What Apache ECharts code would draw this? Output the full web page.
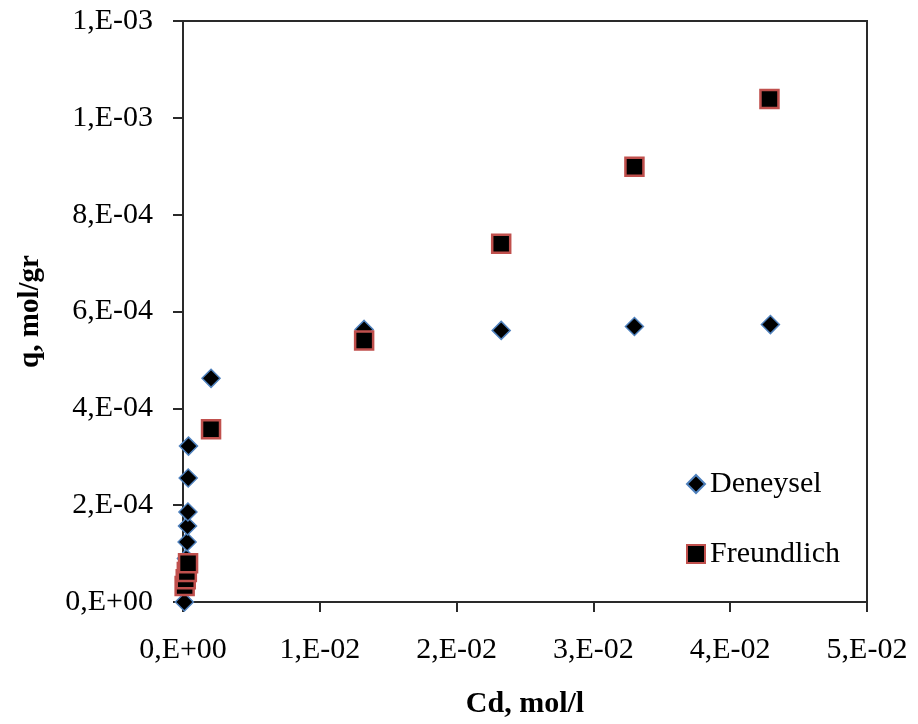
<!DOCTYPE html>
<html>
<head>
<meta charset="utf-8">
<script src="https://cdn.jsdelivr.net/npm/echarts@6/dist/echarts.min.js"></script>
<style>
html,body{margin:0;padding:0;background:#fff;}
#chart{width:918px;height:724px;}
</style>
</head>
<body>
<div id="chart"></div>
<script>
// Data
var seriesNames = ['Deneysel', 'Freundlich'];
var deneyselX = [0.0001, 0.00025, 0.0003, 0.00033, 0.00036, 0.00038, 0.0004, 0.00205, 0.01324, 0.02326, 0.0330, 0.04294];
var deneyselQ = [0, 0.00009, 0.000124, 0.000157, 0.000186, 0.000256, 0.000322, 0.000462, 0.000563, 0.000561, 0.000569, 0.000573];
var freundlichX = [0.00012, 0.0002, 0.00028, 0.00037, 0.00205, 0.01324, 0.02326, 0.0330, 0.04287];
var freundlichQ = [0.000033, 0.000047, 0.000062, 0.00008, 0.000357, 0.00054, 0.00074, 0.000899, 0.001039];
var xTickLabels = ['0,E+00', '1,E-02', '2,E-02', '3,E-02', '4,E-02', '5,E-02'];
var yTickLabels = ['0,E+00', '2,E-04', '4,E-04', '6,E-04', '8,E-04', '1,E-03', '1,E-03'];
var xTitle = 'Cd, mol/l';
var yTitle = 'q, mol/gr';

function pairs(xs, ys) {
  var out = [];
  for (var i = 0; i < xs.length; i++) out.push([xs[i], ys[i]]);
  return out;
}

var FONT = 'Liberation Serif';
var chart = echarts.init(document.getElementById('chart'), null, {renderer: 'canvas'});
chart.setOption({
  animation: false,
  backgroundColor: '#ffffff',
  grid: {
    left: 183, right: 51, top: 21, bottom: 121,
    show: true, borderColor: '#2a2a2a', borderWidth: 2, backgroundColor: 'transparent'
  },
  legend: {
    orient: 'vertical',
    left: 681, top: 464,
    itemWidth: 18, itemHeight: 18,
    itemGap: 40,
    textStyle: {fontFamily: FONT, fontSize: 30, color: '#000'},
    data: [
      {name: seriesNames[0], icon: 'diamond'},
      {name: seriesNames[1], icon: 'rect'}
    ]
  },
  xAxis: {
    type: 'value', min: 0, max: 0.05, interval: 0.01,
    name: xTitle, nameLocation: 'middle', nameGap: 87,
    nameTextStyle: {fontFamily: FONT, fontSize: 30, fontWeight: 'bold', color: '#000'},
    axisLine: {show: true, onZero: false, lineStyle: {color: '#2a2a2a', width: 2}},
    axisTick: {show: true, inside: false, length: 10, lineStyle: {color: '#2a2a2a', width: 2}},
    axisLabel: {
      margin: 33, fontFamily: FONT, fontSize: 30, color: '#000',
      formatter: function (v, i) { return xTickLabels[Math.round(v / 0.01)]; }
    },
    splitLine: {show: false}
  },
  yAxis: {
    type: 'value', min: 0, max: 0.0012, interval: 0.0002,
    name: yTitle, nameLocation: 'middle', nameGap: 138,
    nameTextStyle: {fontFamily: FONT, fontSize: 29, fontWeight: 'bold', color: '#000'},
    axisLine: {show: true, onZero: false, lineStyle: {color: '#2a2a2a', width: 2}},
    axisTick: {show: true, inside: false, length: 10, lineStyle: {color: '#2a2a2a', width: 2}},
    axisLabel: {
      margin: 30, fontFamily: FONT, fontSize: 30, color: '#000',
      formatter: function (v, i) { return yTickLabels[Math.round(v / 0.0002)]; }
    },
    splitLine: {show: false}
  },
  series: [
    {
      name: seriesNames[0], type: 'scatter', symbol: 'diamond', symbolSize: 18,
      itemStyle: {color: '#000', borderColor: '#4f81bd', borderWidth: 1.5, opacity: 1},
      data: pairs(deneyselX, deneyselQ)
    },
    {
      name: seriesNames[1], type: 'scatter', symbol: 'rect', symbolSize: 18,
      itemStyle: {color: '#000', borderColor: '#c0504d', borderWidth: 2.5, opacity: 1},
      data: pairs(freundlichX, freundlichQ)
    }
  ]
});
</script>
</body>
</html>
